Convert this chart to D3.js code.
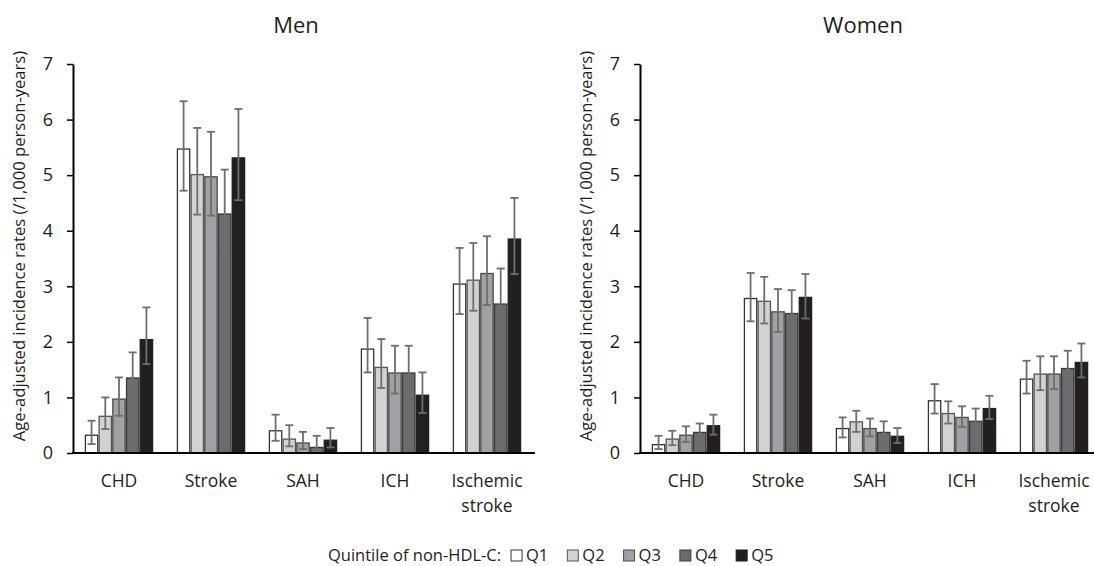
<!DOCTYPE html>
<html><head><meta charset="utf-8">
<script src="https://cdn.jsdelivr.net/npm/d3@7"></script>
<style>
html,body{margin:0;padding:0;background:#fff;}
svg{display:block;font-family:"Open Sans",sans-serif;}
</style></head>
<body><svg id="c" width="1094" height="566"></svg>
<script>
const categories = ["CHD", "Stroke", "SAH", "ICH", "Ischemic stroke"];
const quintiles = ["Q1", "Q2", "Q3", "Q4", "Q5"];
const yTicks = [0, 1, 2, 3, 4, 5, 6, 7];
const panelTitles = ["Men", "Women"];

// Men: rate per category per quintile, with 95% CI low/high
const menRate = [
  [0.32, 0.66, 0.97, 1.35, 2.04],
  [5.47, 5.01, 4.97, 4.30, 5.31],
  [0.40, 0.25, 0.18, 0.10, 0.23],
  [1.87, 1.54, 1.44, 1.44, 1.04],
  [3.04, 3.11, 3.23, 2.68, 3.85]
];
const menLow = [
  [0.16, 0.43, 0.67, 1.00, 1.60],
  [4.72, 4.29, 4.27, 3.65, 4.55],
  [0.22, 0.12, 0.07, 0.03, 0.10],
  [1.45, 1.17, 1.07, 1.07, 0.72],
  [2.50, 2.56, 2.66, 2.18, 3.22]
];
const menHigh = [
  [0.58, 1.00, 1.36, 1.81, 2.62],
  [6.33, 5.85, 5.78, 5.10, 6.19],
  [0.69, 0.50, 0.38, 0.31, 0.45],
  [2.43, 2.05, 1.93, 1.93, 1.45],
  [3.69, 3.78, 3.90, 3.32, 4.59]
];
// Women
const womenRate = [
  [0.15, 0.25, 0.32, 0.37, 0.49],
  [2.78, 2.73, 2.54, 2.51, 2.80],
  [0.44, 0.56, 0.44, 0.37, 0.30],
  [0.94, 0.71, 0.64, 0.57, 0.80],
  [1.33, 1.42, 1.42, 1.52, 1.63]
];
const womenLow = [
  [0.07, 0.14, 0.20, 0.23, 0.33],
  [2.37, 2.33, 2.18, 2.15, 2.42],
  [0.28, 0.38, 0.30, 0.23, 0.18],
  [0.71, 0.53, 0.47, 0.42, 0.61],
  [1.07, 1.13, 1.15, 1.24, 1.36]
];
const womenHigh = [
  [0.31, 0.40, 0.48, 0.53, 0.69],
  [3.24, 3.17, 2.95, 2.93, 3.22],
  [0.64, 0.76, 0.62, 0.57, 0.45],
  [1.24, 0.93, 0.84, 0.80, 1.03],
  [1.66, 1.74, 1.74, 1.84, 1.97]
];

const fills = ["#ffffff", "#d1d2d4", "#a0a1a5", "#6b6c70", "#231f20"];
const strokes = ["#333333", "#555555", "#4a4a4a", "#3a3a3a", "#231f20"];
const textColor = "#1e1e1e";

const svg = d3.select("#c");
const y = d3.scaleLinear().domain([0, 7]).range([453, 64]);

function panel(x0, xEnd, title, titleX, rate, low, high) {
  const g = svg.append("g");
  const x = d3.scaleBand().domain(categories).range([x0, x0 + 460]).padding(0);
  const x1 = d3.scaleBand().domain(quintiles).range([12, 80]).paddingInner(0.1).paddingOuter(0.03);

  // bars
  categories.forEach((c, ci) => {
    const cg = g.append("g").attr("transform", `translate(${x(c)},0)`);
    quintiles.forEach((q, qi) => {
      cg.append("rect")
        .attr("x", x1(q))
        .attr("y", y(rate[ci][qi]))
        .attr("width", x1.bandwidth())
        .attr("height", y(0) - y(rate[ci][qi]))
        .attr("fill", fills[qi])
        .attr("stroke", strokes[qi])
        .attr("stroke-width", 1.3);
    });
    quintiles.forEach((q, qi) => {
      const cx = x1(q) + x1.bandwidth() / 2;
      const eg = cg.append("g").attr("stroke", "#6e6e6e").attr("stroke-width", 1.8);
      eg.append("line").attr("x1", cx).attr("x2", cx)
        .attr("y1", y(low[ci][qi])).attr("y2", y(high[ci][qi]));
      eg.append("line").attr("x1", cx - 4).attr("x2", cx + 4)
        .attr("y1", y(low[ci][qi])).attr("y2", y(low[ci][qi]));
      eg.append("line").attr("x1", cx - 4).attr("x2", cx + 4)
        .attr("y1", y(high[ci][qi])).attr("y2", y(high[ci][qi]));
    });
  });

  // y axis
  const ya = g.append("g").attr("transform", `translate(${x0},0)`)
    .call(d3.axisLeft(y).tickValues(yTicks).tickFormat(d3.format("d"))
      .tickSize(6).tickSizeOuter(0).tickPadding(14));
  ya.select(".domain").attr("stroke", "#000").attr("stroke-width", 2);
  ya.selectAll(".tick line").attr("stroke", "#000").attr("stroke-width", 1.5);
  ya.selectAll(".tick text").attr("font-size", 18).attr("fill", textColor)
    .attr("font-family", "'Open Sans',sans-serif");

  // x baseline
  g.append("line").attr("x1", x0 - 1).attr("x2", xEnd)
    .attr("y1", y(0)).attr("y2", y(0)).attr("stroke", "#000").attr("stroke-width", 2.2);

  // category labels
  categories.forEach(c => {
    const words = c.split(" ");
    const t = g.append("text").attr("text-anchor", "middle")
      .attr("font-size", 17.5).attr("fill", textColor);
    words.forEach((w, i) => {
      t.append("tspan").attr("x", x(c) + x.bandwidth() / 2)
        .attr("y", 487 + i * 25).text(w);
    });
  });

  // y title
  g.append("text")
    .attr("transform", `translate(${x0 - 48},246) rotate(-90)`)
    .attr("text-anchor", "middle").attr("font-size", 16.6).attr("fill", textColor)
    .text("Age-adjusted incidence rates (/1,000 person-years)");

  // panel title
  g.append("text").attr("x", titleX).attr("y", 33).attr("text-anchor", "middle")
    .attr("font-size", 22).attr("fill", textColor).text(title);
}

panel(73, 535, panelTitles[0], 296, menRate, menLow, menHigh);
panel(640, 1094, panelTitles[1], 863, womenRate, womenLow, womenHigh);

// legend
const lg = svg.append("g").attr("font-size", 16.5).attr("fill", textColor);
const lt = lg.append("text").attr("x", 328).attr("y", 561).text("Quintile of non-HDL-C:");
let lx = 328 + lt.node().getComputedTextLength() + 10;
quintiles.forEach((q, i) => {
  lg.append("rect").attr("x", lx).attr("y", 550).attr("width", 11).attr("height", 11)
    .attr("fill", fills[i]).attr("stroke", i === 0 ? "#333" : strokes[i]).attr("stroke-width", 1);
  const t = lg.append("text").attr("x", lx + 15).attr("y", 561).text(q);
  lx += 15 + t.node().getComputedTextLength() + 19;
});
</script>
</body></html>
